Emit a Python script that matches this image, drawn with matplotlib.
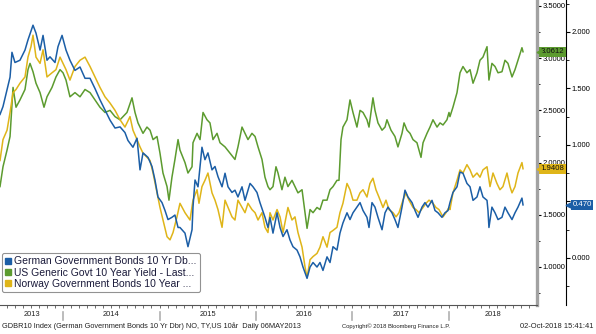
import matplotlib
matplotlib.use('Agg')
import numpy as np
import matplotlib.pyplot as plt
import matplotlib.transforms as mtransforms
from matplotlib.lines import Line2D
from matplotlib.ticker import MultipleLocator, FormatStrFormatter, FixedLocator, NullFormatter, FuncFormatter

plt.rcParams['font.family'] = ['Liberation Sans', 'DejaVu Sans']

# ---------------- data (decimal years, yields in %) ----------------
de_dates = [
    2013.347, 2013.378, 2013.420, 2013.451, 2013.471, 2013.502, 2013.554, 2013.606, 2013.637, 2013.689,
    2013.720, 2013.762, 2013.793, 2013.834, 2013.865, 2013.917, 2013.948, 2013.990, 2014.031, 2014.072,
    2014.124, 2014.176, 2014.228, 2014.280, 2014.331, 2014.383, 2014.435, 2014.487, 2014.539, 2014.591,
    2014.642, 2014.673, 2014.725, 2014.767, 2014.798, 2014.829, 2014.881, 2014.922, 2014.953, 2014.984,
    2015.026, 2015.057, 2015.088, 2015.129, 2015.160, 2015.192, 2015.212, 2015.264, 2015.295, 2015.337,
    2015.347, 2015.368, 2015.399, 2015.440, 2015.471, 2015.502, 2015.544, 2015.575, 2015.606, 2015.648,
    2015.679, 2015.710, 2015.751, 2015.782, 2015.813, 2015.855, 2015.886, 2015.938, 2015.969, 2016.010,
    2016.041, 2016.093, 2016.124, 2016.145, 2016.176, 2016.218, 2016.249, 2016.280, 2016.321, 2016.352,
    2016.383, 2016.425, 2016.456, 2016.487, 2016.529, 2016.560, 2016.591, 2016.632, 2016.663, 2016.694,
    2016.736, 2016.767, 2016.798, 2016.839, 2016.870, 2016.901, 2016.943, 2016.974, 2017.005, 2017.046,
    2017.078, 2017.109, 2017.150, 2017.171, 2017.202, 2017.233, 2017.264, 2017.306, 2017.337, 2017.368,
    2017.409, 2017.440, 2017.471, 2017.513, 2017.544, 2017.575, 2017.617, 2017.648, 2017.679, 2017.720,
    2017.751, 2017.782, 2017.824, 2017.855, 2017.886, 2017.927, 2017.958, 2017.990, 2018.010, 2018.041,
    2018.083, 2018.114, 2018.145, 2018.186, 2018.218, 2018.249, 2018.290, 2018.321, 2018.352, 2018.394,
    2018.404, 2018.414, 2018.445, 2018.477, 2018.508, 2018.549, 2018.580, 2018.611, 2018.653, 2018.684,
    2018.715, 2018.756, 2018.767]
de_yield = [
    1.27, 1.34, 1.49, 1.60, 1.82, 1.73, 1.75, 1.84, 1.93, 2.06,
    1.99, 1.84, 1.97, 1.75, 1.78, 1.73, 1.87, 1.97, 1.84, 1.75,
    1.66, 1.69, 1.59, 1.59, 1.50, 1.40, 1.31, 1.22, 1.15, 1.16,
    1.11, 1.04, 0.98, 1.06, 0.78, 0.93, 0.89, 0.81, 0.69, 0.54,
    0.49, 0.42, 0.34, 0.36, 0.38, 0.27, 0.27, 0.22, 0.10, 0.25,
    0.45, 0.69, 0.63, 0.98, 0.87, 0.93, 0.78, 0.81, 0.72, 0.63,
    0.75, 0.63, 0.58, 0.60, 0.54, 0.63, 0.51, 0.66, 0.63, 0.58,
    0.49, 0.36, 0.27, 0.36, 0.22, 0.40, 0.27, 0.19, 0.25, 0.16,
    0.10, 0.07, 0.01, -0.08, -0.18, -0.08, -0.04, -0.08, -0.04, -0.11,
    0.01, -0.04, 0.10, 0.07, 0.22, 0.31, 0.40, 0.34, 0.40, 0.45,
    0.49, 0.42, 0.36, 0.27, 0.49, 0.45, 0.36, 0.25, 0.40, 0.45,
    0.40, 0.34, 0.27, 0.45, 0.60, 0.54, 0.49, 0.42, 0.36, 0.45,
    0.49, 0.45, 0.51, 0.42, 0.40, 0.36, 0.40, 0.42, 0.49, 0.58,
    0.63, 0.76, 0.75, 0.66, 0.63, 0.51, 0.54, 0.63, 0.54, 0.51,
    0.42, 0.27, 0.45, 0.40, 0.34, 0.36, 0.45, 0.40, 0.34, 0.40,
    0.45, 0.53, 0.470]

us_dates = [
    2013.347, 2013.378, 2013.420, 2013.451, 2013.482, 2013.513, 2013.554, 2013.606, 2013.637, 2013.658,
    2013.689, 2013.720, 2013.762, 2013.803, 2013.834, 2013.886, 2013.927, 2013.969, 2014.000, 2014.031,
    2014.072, 2014.124, 2014.176, 2014.228, 2014.280, 2014.331, 2014.383, 2014.435, 2014.487, 2014.539,
    2014.591, 2014.663, 2014.715, 2014.746, 2014.777, 2014.829, 2014.870, 2014.902, 2014.933, 2014.974,
    2015.005, 2015.036, 2015.078, 2015.098, 2015.129, 2015.160, 2015.192, 2015.212, 2015.264, 2015.295,
    2015.337, 2015.347, 2015.389, 2015.420, 2015.451, 2015.492, 2015.523, 2015.554, 2015.596, 2015.627,
    2015.679, 2015.731, 2015.782, 2015.813, 2015.855, 2015.886, 2015.917, 2015.958, 2015.990, 2016.021,
    2016.062, 2016.093, 2016.124, 2016.145, 2016.176, 2016.207, 2016.228, 2016.269, 2016.300, 2016.331,
    2016.373, 2016.404, 2016.435, 2016.477, 2016.508, 2016.529, 2016.560, 2016.591, 2016.632, 2016.663,
    2016.694, 2016.736, 2016.767, 2016.798, 2016.839, 2016.860, 2016.881, 2016.901, 2016.943, 2016.974,
    2017.005, 2017.046, 2017.078, 2017.109, 2017.150, 2017.171, 2017.212, 2017.233, 2017.264, 2017.306,
    2017.337, 2017.357, 2017.399, 2017.440, 2017.471, 2017.513, 2017.534, 2017.565, 2017.596, 2017.627,
    2017.668, 2017.710, 2017.731, 2017.772, 2017.803, 2017.834, 2017.876, 2017.907, 2017.938, 2017.979,
    2018.000, 2018.010, 2018.041, 2018.083, 2018.114, 2018.145, 2018.186, 2018.218, 2018.249, 2018.290,
    2018.321, 2018.352, 2018.394, 2018.414, 2018.445, 2018.477, 2018.508, 2018.549, 2018.580, 2018.611,
    2018.653, 2018.684, 2018.715, 2018.756, 2018.767]
us_yield = [
    1.77, 1.96, 2.12, 2.25, 2.72, 2.53, 2.60, 2.70, 2.89, 2.95,
    2.87, 2.76, 2.67, 2.53, 2.63, 2.72, 2.82, 2.89, 2.86, 2.79,
    2.63, 2.67, 2.63, 2.70, 2.67, 2.60, 2.53, 2.48, 2.50, 2.44,
    2.41, 2.48, 2.62, 2.48, 2.38, 2.28, 2.34, 2.31, 2.22, 2.25,
    2.09, 1.90, 1.77, 1.64, 1.86, 2.03, 2.22, 2.12, 2.00, 1.90,
    1.96, 2.19, 2.28, 2.22, 2.48, 2.41, 2.38, 2.22, 2.28, 2.19,
    2.15, 2.09, 2.03, 2.15, 2.34, 2.28, 2.22, 2.28, 2.25, 2.15,
    2.03, 1.86, 1.77, 1.74, 1.77, 1.96, 1.90, 1.74, 1.86, 1.77,
    1.83, 1.77, 1.71, 1.74, 1.52, 1.37, 1.55, 1.52, 1.57, 1.55,
    1.64, 1.64, 1.74, 1.77, 1.83, 1.83, 2.22, 2.34, 2.41, 2.60,
    2.48, 2.34, 2.50, 2.48, 2.41, 2.34, 2.62, 2.50, 2.38, 2.31,
    2.34, 2.41, 2.31, 2.25, 2.15, 2.28, 2.38, 2.31, 2.28, 2.22,
    2.19, 2.05, 2.19, 2.28, 2.34, 2.41, 2.34, 2.38, 2.36, 2.41,
    2.48, 2.44, 2.53, 2.67, 2.86, 2.92, 2.86, 2.89, 2.76, 2.86,
    2.98, 3.01, 3.11, 2.79, 2.95, 2.92, 2.86, 2.87, 2.98, 2.95,
    2.82, 2.89, 2.98, 3.10, 3.0612]

no_dates = [
    2013.347, 2013.378, 2013.420, 2013.451, 2013.482, 2013.513, 2013.554, 2013.606, 2013.637, 2013.668,
    2013.689, 2013.720, 2013.762, 2013.793, 2013.834, 2013.886, 2013.927, 2013.969, 2014.000, 2014.031,
    2014.072, 2014.124, 2014.176, 2014.228, 2014.280, 2014.331, 2014.383, 2014.435, 2014.487, 2014.539,
    2014.591, 2014.642, 2014.694, 2014.725, 2014.767, 2014.798, 2014.829, 2014.870, 2014.902, 2014.933,
    2014.974, 2015.005, 2015.036, 2015.078, 2015.109, 2015.140, 2015.181, 2015.212, 2015.264, 2015.316,
    2015.347, 2015.389, 2015.409, 2015.440, 2015.471, 2015.502, 2015.544, 2015.575, 2015.606, 2015.648,
    2015.679, 2015.710, 2015.751, 2015.782, 2015.813, 2015.855, 2015.886, 2015.917, 2015.958, 2015.990,
    2016.021, 2016.062, 2016.093, 2016.124, 2016.145, 2016.176, 2016.218, 2016.249, 2016.280, 2016.331,
    2016.373, 2016.404, 2016.435, 2016.477, 2016.508, 2016.529, 2016.560, 2016.591, 2016.632, 2016.663,
    2016.694, 2016.736, 2016.767, 2016.798, 2016.839, 2016.870, 2016.901, 2016.943, 2016.974, 2017.005,
    2017.046, 2017.078, 2017.109, 2017.150, 2017.181, 2017.212, 2017.243, 2017.274, 2017.316, 2017.347,
    2017.378, 2017.420, 2017.451, 2017.482, 2017.523, 2017.554, 2017.585, 2017.627, 2017.658, 2017.689,
    2017.731, 2017.762, 2017.793, 2017.834, 2017.865, 2017.896, 2017.938, 2017.969, 2018.000, 2018.010,
    2018.041, 2018.083, 2018.114, 2018.145, 2018.186, 2018.218, 2018.249, 2018.290, 2018.321, 2018.352,
    2018.394, 2018.425, 2018.456, 2018.497, 2018.528, 2018.559, 2018.601, 2018.632, 2018.653, 2018.684,
    2018.715, 2018.756, 2018.767]
no_yield = [
    2.02, 2.22, 2.31, 2.48, 2.67, 2.70, 2.76, 2.82, 3.01, 3.11,
    3.22, 3.01, 2.95, 3.08, 2.82, 2.86, 2.89, 3.01, 2.95, 2.89,
    2.79, 2.92, 2.98, 3.01, 2.92, 2.82, 2.72, 2.63, 2.57, 2.50,
    2.41, 2.34, 2.44, 2.31, 2.22, 2.15, 2.09, 2.05, 2.02, 1.90,
    1.71, 1.57, 1.45, 1.29, 1.26, 1.33, 1.48, 1.61, 1.52, 1.45,
    1.64, 1.74, 1.61, 1.77, 1.83, 1.90, 1.71, 1.64, 1.55, 1.38,
    1.64, 1.57, 1.48, 1.45, 1.64, 1.57, 1.52, 1.61, 1.55, 1.52,
    1.45, 1.52, 1.38, 1.33, 1.52, 1.45, 1.55, 1.48, 1.33, 1.57,
    1.45, 1.48, 1.33, 1.19, 1.00, 0.90, 1.07, 1.10, 1.13, 1.19,
    1.29, 1.19, 1.33, 1.35, 1.38, 1.52, 1.61, 1.80, 1.74, 1.64,
    1.64, 1.71, 1.74, 1.67, 1.80, 1.85, 1.74, 1.67, 1.57, 1.64,
    1.55, 1.52, 1.48, 1.52, 1.64, 1.71, 1.64, 1.57, 1.55, 1.52,
    1.57, 1.61, 1.64, 1.61, 1.57, 1.55, 1.48, 1.52, 1.57, 1.55,
    1.71, 1.83, 1.93, 1.90, 1.98, 1.93, 1.86, 1.90, 1.86, 1.93,
    1.96, 1.77, 1.90, 1.80, 1.74, 1.77, 1.90, 1.77, 1.71, 1.77,
    1.90, 2.00, 1.9408]

labels = ['German Government Bonds 10 Yr Db...',
          'US Generic Govt 10 Year Yield - Last...',
          'Norway Government Bonds 10 Year ...']
years = [2013, 2014, 2015, 2016, 2017, 2018]

# ---------------- style ----------------
BLUE = '#1b5ea6'
GREEN = '#5c9b2f'
YELLOW = '#dfb519'
X_LIM = (2013.347, 2018.912)
US_LIM = (0.636, 3.557)   # outer right axis (US, Norway)
DE_LIM = (-0.416, 2.283)  # inner right axis (Germany)

fig = plt.figure(figsize=(5.96, 3.34), dpi=100)
ax = fig.add_axes([0, 29 / 334, 537 / 596, 305 / 334])
ax2 = ax.twinx()

ax.plot(us_dates, us_yield, color=GREEN, lw=1.1)
ax.plot(no_dates, no_yield, color=YELLOW, lw=1.1)
ax2.plot(de_dates, de_yield, color=BLUE, lw=1.1)

ax.set_xlim(*X_LIM)
ax.set_ylim(*US_LIM)
ax2.set_ylim(*DE_LIM)

# outer axis (thick grey bar)
for s in ['top', 'left']:
    ax.spines[s].set_visible(False)
ax.spines['right'].set_color('#a2a2a2')
ax.spines['right'].set_linewidth(2.4)
ax.spines['bottom'].set_color('#555555')
ax.spines['bottom'].set_linewidth(0.8)
ax.yaxis.tick_right()
ax.yaxis.set_major_locator(MultipleLocator(0.5))
ax.yaxis.set_minor_locator(MultipleLocator(0.25))
ax.yaxis.set_major_formatter(FormatStrFormatter('%.4f'))
ax.tick_params(axis='y', which='major', length=3, width=0.8, pad=1, labelsize=5.5)
ax.tick_params(axis='y', which='minor', length=2, width=0.6)

# inner axis (German); the 0.500 label sits under the last-value tag
for s in ['top', 'left', 'bottom']:
    ax2.spines[s].set_visible(False)
ax2.spines['right'].set_position(('axes', 566 / 537))
ax2.spines['right'].set_linewidth(0.8)
ax2.yaxis.set_major_locator(MultipleLocator(0.5))
ax2.yaxis.set_minor_locator(MultipleLocator(0.25))
ax2.yaxis.set_major_formatter(FuncFormatter(lambda v, p: '' if abs(v - 0.5) < 1e-6 else f'{v:.3f}'))
ax2.tick_params(axis='y', which='major', length=3, width=0.8, pad=1, labelsize=5.5)
ax2.tick_params(axis='y', which='minor', length=2, width=0.6)

# x axis: monthly ticks, year labels centred in each visible year span
months = np.arange(2013 + 5 / 12, X_LIM[1], 1 / 12)
ax.xaxis.set_major_locator(FixedLocator(months))
ax.xaxis.set_major_formatter(NullFormatter())
ax.tick_params(axis='x', which='major', length=2, width=0.6, color='#555555')
xtr = mtransforms.blended_transform_factory(ax.transData, ax.transAxes)
for yr in years:
    lo, hi = max(yr, X_LIM[0]), min(yr + 1, X_LIM[1])
    ax.text((lo + hi) / 2, -0.03, str(yr), transform=xtr, ha='center', va='center',
            fontsize=5.4, color='#222222')
    if yr > years[0]:
        ax.plot([yr, yr], [-0.022, -0.05], transform=xtr, clip_on=False,
                color='#b0b0b0', lw=1.2)

# last-value tags
def tag(axis_for_y, value, text, fc, tc, x_left, x_right):
    tr = mtransforms.blended_transform_factory(ax.transAxes, axis_for_y.transData)
    xc = (x_left + x_right) / 2 / 537
    ax2.text(xc, value, text, transform=tr, ha='center', va='center', fontsize=5.6,
             color=tc, zorder=10, clip_on=False,
             bbox=dict(boxstyle='square,pad=0.18', fc=fc, ec='none'))
    ax2.plot([x_left / 537], [value], transform=tr, marker='<', ms=3.5, color=fc,
             clip_on=False, zorder=10)

tag(ax, us_yield[-1], '3.0612', GREEN, '#111111', 539, 566)
tag(ax, no_yield[-1], '1.9408', YELLOW, '#111111', 539, 566)
tag(ax2, de_yield[-1], '0.470', BLUE, 'white', 568, 596)

# legend
handles = [Line2D([], [], marker='s', ls='none', ms=5, color=c) for c in (BLUE, GREEN, YELLOW)]
leg = ax2.legend(handles, labels, loc='lower left', bbox_to_anchor=(2 / 537, 13 / 305),
                 fontsize=7.5, frameon=True, fancybox=True, handlelength=0.6,
                 handletextpad=0.3, borderpad=0.3, labelspacing=0.12, borderaxespad=0)
leg.get_frame().set_edgecolor('#777777')
leg.get_frame().set_linewidth(0.8)
for t in leg.get_texts():
    t.set_color('#1a1a3a')

# footer
fig.text(2 / 596, 1 - 326 / 334, 'GDBR10 Index (German Government Bonds 10 Yr Dbr) NO, TY,US 10år  Daily 06MAY2013',
         fontsize=5.3, va='center', ha='left', color='#222222')
fig.text(342 / 596, 1 - 326 / 334, 'Copyright© 2018 Bloomberg Finance L.P.',
         fontsize=4.2, va='center', ha='left', color='#222222')
fig.text(594 / 596, 1 - 326 / 334, '02-Oct-2018 15:41:41',
         fontsize=5.4, va='center', ha='right', color='#222222')

fig.savefig('out.png', dpi=100)
